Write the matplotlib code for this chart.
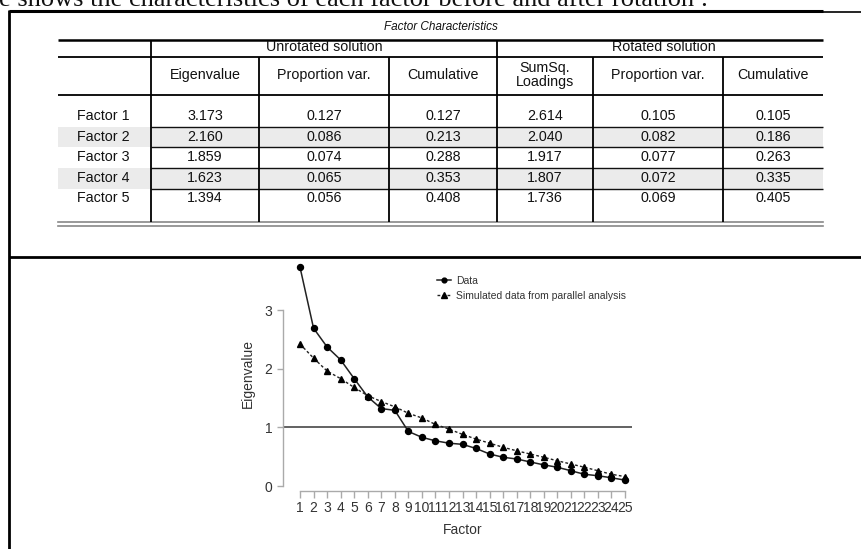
import matplotlib
matplotlib.use("Agg")
import matplotlib.pyplot as plt

# ---------------- data ----------------
row_labels = ["Factor 1", "Factor 2", "Factor 3", "Factor 4", "Factor 5"]
unrot_eigen = [3.173, 2.160, 1.859, 1.623, 1.394]
unrot_prop = [0.127, 0.086, 0.074, 0.065, 0.056]
unrot_cum = [0.127, 0.213, 0.288, 0.353, 0.408]
rot_sumsq = [2.614, 2.040, 1.917, 1.807, 1.736]
rot_prop = [0.105, 0.082, 0.077, 0.072, 0.069]
rot_cum = [0.105, 0.186, 0.263, 0.335, 0.405]

group_labels = ["Unrotated solution", "Rotated solution"]
col_headers = ["Eigenvalue", "Proportion var.", "Cumulative",
               "SumSq.\nLoadings", "Proportion var.", "Cumulative"]

factors = list(range(1, 26))
data_eigen = [3.73, 2.69, 2.37, 2.15, 1.83, 1.52, 1.32, 1.29, 0.93, 0.83,
              0.77, 0.73, 0.71, 0.64, 0.545, 0.49, 0.46, 0.41, 0.36, 0.32,
              0.26, 0.20, 0.175, 0.14, 0.10]
sim_eigen = [2.42, 2.18, 1.96, 1.83, 1.68, 1.54, 1.44, 1.35, 1.24, 1.16,
             1.05, 0.97, 0.88, 0.80, 0.73, 0.66, 0.60, 0.545, 0.49, 0.43,
             0.375, 0.32, 0.26, 0.20, 0.16]

top_text = "e shows the characteristics of each factor before and after rotation :"

# ---------------- figure ----------------
W, H = 861, 549
fig = plt.figure(figsize=(W / 100, H / 100), dpi=100)
fig.patch.set_facecolor("white")

bg = fig.add_axes([0, 0, 1, 1])
bg.set_xlim(0, W)
bg.set_ylim(H, 0)
bg.axis("off")

sans = "Liberation Sans"
fs = 10.3

# top document text (cut off)
bg.text(-1, 6, top_text, family="Liberation Serif", fontsize=19,
        ha="left", va="baseline", color="#111")

# document frame
bg.plot([9, 823], [11, 11], color="black", lw=2.2, solid_capstyle="butt")
bg.plot([823, 861], [11.5, 11.5], color="black", lw=1.2)
bg.plot([9, 9], [10, 549], color="black", lw=2.0, solid_capstyle="butt")
bg.plot([9, 861], [257, 257], color="black", lw=2.0, solid_capstyle="butt")

# table geometry
tx0, tx1 = 58, 823
col_edges = [151, 259, 389, 497, 593, 723, 823]
row_tops = [95, 127, 147, 168, 189]
row_y = [116, 137, 157, 178, 198]

# shaded rows
for i in (1, 3):
    bg.fill_between([tx0, tx1], row_tops[i], row_tops[i + 1],
                    color="#ebebeb", lw=0, zorder=0)

bg.text((tx0 + tx1) / 2, 27, "Factor Characteristics", family=sans,
        style="italic", fontsize=8.5, ha="center", va="center", color="#111")

bg.plot([tx0, tx1], [40, 40], color="black", lw=1.8, solid_capstyle="butt")
bg.plot([tx0, tx1], [57, 57], color="black", lw=1.3, solid_capstyle="butt")
bg.plot([tx0, tx1], [95, 95], color="black", lw=1.3, solid_capstyle="butt")
for yy in row_tops[1:]:
    bg.plot([151, tx1], [yy, yy], color="#111", lw=1.0, solid_capstyle="butt")
bg.plot([tx0, tx1], [222, 222], color="#888", lw=1.2)
bg.plot([tx0, tx1], [226, 226], color="#888", lw=1.2)

for xx in (151, 497):
    bg.plot([xx, xx], [40, 222], color="black", lw=1.3, solid_capstyle="butt")
for xx in (259, 389, 593, 723):
    bg.plot([xx, xx], [57, 222], color="black", lw=1.3, solid_capstyle="butt")

bg.text((151 + 497) / 2, 47, group_labels[0], family=sans, fontsize=fs,
        ha="center", va="center", color="#111")
bg.text((497 + 823) / 2 + 4, 47, group_labels[1], family=sans, fontsize=fs,
        ha="center", va="center", color="#111")

for j, h in enumerate(col_headers):
    cx = (col_edges[j] + col_edges[j + 1]) / 2
    bg.text(cx, 75, h, family=sans, fontsize=fs, ha="center", va="center",
            color="#111", linespacing=0.95)

columns = [unrot_eigen, unrot_prop, unrot_cum, rot_sumsq, rot_prop, rot_cum]
for i, lab in enumerate(row_labels):
    bg.text(77, row_y[i], lab, family=sans, fontsize=fs, ha="left",
            va="center", color="#111")
    for j, col in enumerate(columns):
        cx = (col_edges[j] + col_edges[j + 1]) / 2
        bg.text(cx, row_y[i], f"{col[i]:.3f}", family=sans, fontsize=fs,
                ha="center", va="center", color="#111")

# ---------------- scree plot ----------------
ax_l, ax_r, ax_t, ax_b = 283, 632, 260, 491
ax = fig.add_axes([ax_l / W, (H - ax_b) / H, (ax_r - ax_l) / W, (ax_b - ax_t) / H])
ax.patch.set_alpha(0)

px_per_x = (625 - 300) / 24
x_lo = 1 - (300 - ax_l) / px_per_x
x_hi = 1 + (ax_r - 300) / px_per_x
px_per_y = (486 - 310) / 3
y_lo = -(ax_b - 486) / px_per_y
y_hi = (486 - ax_t) / px_per_y
ax.set_xlim(x_lo, x_hi)
ax.set_ylim(y_lo, y_hi)

ax.axhline(1, color="#555", lw=1.3, zorder=1)
l1, = ax.plot(factors, data_eigen, color="#222", lw=1.1, marker="o",
              ms=4.3, mfc="black", mec="black", label="Data", zorder=3)
l2, = ax.plot(factors, sim_eigen, color="#222", lw=1.0, ls=(0, (2, 1.6)),
              marker="^", ms=4.6, mfc="black", mec="black",
              label="Simulated data from parallel analysis", zorder=3)

for s in ("top", "right"):
    ax.spines[s].set_visible(False)
for s in ("left", "bottom"):
    ax.spines[s].set_color("#aaa")
    ax.spines[s].set_linewidth(1.0)
ax.spines["left"].set_bounds(0, 3)
ax.spines["bottom"].set_bounds(1, 25)

ax.set_xticks(factors)
ax.set_xticklabels([str(f) for f in factors], family=sans, fontsize=10,
                   color="#333")
ax.set_yticks([0, 1, 2, 3])
ax.set_yticklabels(["0", "1", "2", "3"], family=sans, fontsize=10,
                   color="#333")
ax.tick_params(axis="x", length=5, width=1.0, color="#aaa", pad=2.5)
ax.tick_params(axis="y", length=4.3, width=1.0, color="#aaa", pad=3.5)

ax.set_xlabel("Factor", family=sans, fontsize=10, color="#333")
ax.xaxis.set_label_coords((463 - ax_l) / (ax_r - ax_l),
                          (ax_b - 530) / (ax_b - ax_t))
ax.xaxis.label.set_va("center")
ax.set_ylabel("Eigenvalue", family=sans, fontsize=10, color="#333")
ax.yaxis.set_label_coords((248 - ax_l) / (ax_r - ax_l),
                          (ax_b - 373) / (ax_b - ax_t))
ax.yaxis.label.set_va("center")

leg = ax.legend(handles=[l1, l2], loc="upper left",
                bbox_to_anchor=(437 / W, 1 - 276 / H),
                bbox_transform=fig.transFigure, frameon=False,
                prop={"family": sans, "size": 7.5}, handlelength=1.3,
                handletextpad=0.5, labelspacing=0.45, borderpad=0,
                borderaxespad=0, markerscale=0.8)
for t in leg.get_texts():
    t.set_color("#333")

fig.savefig("out.png", dpi=100)
